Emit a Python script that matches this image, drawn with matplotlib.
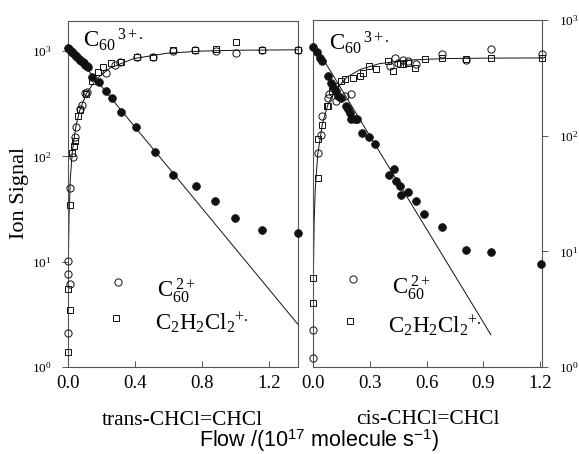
import matplotlib
matplotlib.use("Agg")
import matplotlib.pyplot as plt
from matplotlib.ticker import NullLocator, FixedLocator, LogLocator

plt.rcParams['font.family'] = ['Liberation Serif', 'DejaVu Serif']
plt.rcParams['mathtext.fontset'] = 'custom'
plt.rcParams['mathtext.rm'] = 'Liberation Serif'
plt.rcParams['mathtext.it'] = 'Liberation Serif:italic'
plt.rcParams['mathtext.bf'] = 'Liberation Serif:bold'
plt.rcParams['mathtext.sf'] = 'Liberation Sans'

# ---------------- data: trans-CHCl=CHCl (left panel) ----------------
trans_c3_x = [0.0, 0.008, 0.016, 0.024, 0.032, 0.040, 0.048, 0.056, 0.064, 0.072,
              0.080, 0.088, 0.096, 0.104, 0.112, 0.119, 0.146, 0.183, 0.225, 0.265,
              0.319, 0.408, 0.518, 0.627, 0.761, 0.877, 0.999, 1.159, 1.370]
trans_c3_y = [1063, 1035, 1005, 975, 950, 925, 900, 875, 850, 830,
              810, 785, 765, 745, 725, 711, 564, 512, 418, 356,
              262, 189, 109, 67, 52, 37.5, 25.9, 20.0, 18.9]

trans_c2_x = [0.002, 0.002, 0.014, 0.002, 0.014, 0.030, 0.040, 0.046, 0.070, 0.086,
              0.100, 0.114, 0.226, 0.280, 0.310, 0.410, 0.510, 0.628, 0.756, 0.880,
              1.000, 1.160, 1.370]
trans_c2_y = [2.09, 7.6, 6.2, 10.2, 50, 99, 154, 189, 280, 308,
              403, 412, 624, 738, 790, 873, 885, 1000, 1025, 1000,
              950, 1025, 1025]

trans_p_x = [0.002, 0.002, 0.014, 0.014, 0.026, 0.034, 0.040, 0.060, 0.070, 0.106,
             0.146, 0.179, 0.209, 0.259, 0.319, 0.412, 0.510, 0.628, 0.756, 0.880,
             1.000, 1.160, 1.370]
trans_p_y = [1.4, 5.5, 3.5, 34.6, 107, 126, 140, 242, 276, 392,
             520, 637, 711, 776, 794, 873, 885, 1025, 1025, 1040,
             1212, 1025, 1025]

trans_decay_x = [0.0, 1.37]
trans_decay_y = [1120, 2.56]
trans_rise_x = [0.0002, 0.002, 0.006, 0.014, 0.026, 0.046, 0.07, 0.11, 0.17, 0.25,
                0.39, 0.59, 0.8, 1.0, 1.37]
trans_rise_y = [1.0, 9.1, 27, 62, 112, 190, 274, 396, 544, 689,
                847, 954, 1000, 1018, 1028]

# ---------------- data: cis-CHCl=CHCl (right panel) ----------------
cis_c3_x = [0.0, 0.019, 0.037, 0.049, 0.080, 0.094, 0.106, 0.119, 0.133, 0.150,
            0.176, 0.185, 0.194, 0.202, 0.220, 0.234, 0.259, 0.295, 0.327, 0.402,
            0.426, 0.437, 0.458, 0.467, 0.501, 0.545, 0.589, 0.682, 0.810, 0.942, 1.206]
cis_c3_y = [587, 528, 471, 441, 327, 287, 263, 243, 220, 213,
            180, 169, 156, 138, 138, 138, 105, 97, 85, 46,
            51, 40.5, 36.7, 30.7, 32.7, 27.2, 20.9, 16.2, 10.2, 9.9, 7.8]

cis_c2_x = [0.0, 0.0, 0.029, 0.042, 0.047, 0.080, 0.087, 0.124, 0.168, 0.199,
            0.405, 0.433, 0.449, 0.475, 0.500, 0.545, 0.682, 0.810, 0.939, 1.209]
cis_c2_y = [1.2, 2.08, 71, 102, 148, 213, 230, 199, 220, 230,
            400, 471, 427, 447, 441, 418, 505, 455, 564, 510]

cis_p_x = [0.0, 0.0, 0.024, 0.029, 0.045, 0.073, 0.080, 0.100, 0.117, 0.150,
           0.171, 0.211, 0.246, 0.264, 0.294, 0.334, 0.395, 0.423, 0.458, 0.474,
           0.501, 0.538, 0.594, 0.682, 0.807, 0.939, 1.209]
cis_p_y = [3.6, 5.9, 43, 93, 123, 180, 180, 243, 268, 297,
           307, 317, 327, 350, 400, 379, 441, 362, 418, 413,
           427, 386, 462, 471, 457, 471, 471]

cis_decay_x = [0.0, 0.94]
cis_decay_y = [640, 1.9]
cis_rise_x = [0.0003, 0.002, 0.006, 0.012, 0.025, 0.05, 0.08, 0.12, 0.18, 0.25,
              0.35, 0.5, 0.7, 0.9, 1.21]
cis_rise_y = [0.9, 5.9, 17.6, 34.5, 69, 128, 188, 251, 321, 374,
              419, 450, 464, 468, 470]

trans_xticks = [0.0, 0.4, 0.8, 1.2]
cis_xticks = [0.0, 0.3, 0.6, 0.9, 1.2]
trans_xtick_labels = ['0.0', '0.4', '0.8', '1.2']
cis_xtick_labels = ['0.0', '0.3', '0.6', '0.9', '1.2']

# ---------------- figure ----------------
W, H = 579, 454
fig = plt.figure(figsize=(W / 100, H / 100), dpi=100)
axL = fig.add_axes([68 / W, 1 - 367 / H, 230 / W, 346 / H])
axR = fig.add_axes([313 / W, 1 - 367 / H, 229 / W, 347 / H])

ink = '#111111'
spine_c = '#555555'
fill_kw = dict(ls='none', marker='o', ms=5.6, mfc=ink, mec=ink, mew=0.5, clip_on=False, zorder=4)
circ_kw = dict(ls='none', marker='o', ms=5.2, mfc='none', mec=ink, mew=0.7, clip_on=False, zorder=3)
sq_kw = dict(ls='none', marker='s', ms=4.6, mfc='none', mec=ink, mew=0.7, clip_on=False, zorder=3)
line_kw = dict(color=ink, lw=0.7, zorder=2)

def style(ax, xlim, ylim, xticks, xlabels, yside):
    ax.set_yscale('log')
    ax.set_xlim(*xlim)
    ax.set_ylim(*ylim)
    ax.xaxis.set_major_locator(FixedLocator(xticks))
    ax.set_xticklabels(xlabels)
    ax.xaxis.set_minor_locator(NullLocator())
    ax.yaxis.set_major_locator(LogLocator(base=10, numticks=10))
    ax.yaxis.set_minor_locator(NullLocator())
    for s in ax.spines.values():
        s.set_color(spine_c)
        s.set_linewidth(0.8)
    ax.tick_params(axis='x', direction='in', length=4, width=0.7, color=spine_c,
                   labelsize=13.5, pad=6, top=False)
    if yside == 'left':
        ax.tick_params(axis='y', direction='out', length=4, width=0.7, color=spine_c,
                       labelsize=9.5, pad=8, left=True, right=False)
    else:
        ax.yaxis.tick_right()
        ax.tick_params(axis='y', direction='out', length=4, width=0.7, color=spine_c,
                       labelsize=9.5, pad=8, left=False, right=True,
                       labelleft=False, labelright=True)

style(axL, (0, 1.372), (1, 1930), trans_xticks, trans_xtick_labels, 'left')
style(axR, (0, 1.21), (1, 1000), cis_xticks, cis_xtick_labels, 'right')

# left panel
axL.plot(trans_decay_x, trans_decay_y, **line_kw)
axL.plot(trans_rise_x, trans_rise_y, **line_kw)
axL.plot(trans_c2_x, trans_c2_y, **circ_kw)
axL.plot(trans_p_x, trans_p_y, **sq_kw)
axL.plot(trans_c3_x, trans_c3_y, **fill_kw)

# right panel
axR.plot(cis_decay_x, cis_decay_y, **line_kw)
axR.plot(cis_rise_x, cis_rise_y, **line_kw)
axR.plot(cis_c2_x, cis_c2_y, **circ_kw)
axR.plot(cis_p_x, cis_p_y, **sq_kw)
axR.plot(cis_c3_x, cis_c3_y, **fill_kw)

# legend keys
axL.plot([0.216], [0.245], transform=axL.transAxes, **circ_kw)
axL.plot([0.209], [0.141], transform=axL.transAxes, **sq_kw)
axR.plot([0.176], [0.253], transform=axR.transAxes, **circ_kw)
axR.plot([0.162], [0.133], transform=axR.transAxes, **sq_kw)

def ft(px, py, s, **kw):
    fig.text(px / W, 1 - py / H, s, **kw)

lab_fs = 16.5
ft(157, 296.7, r'$\mathrm{C}_{60}^{\;2+}$', fontsize=lab_fs, va='baseline')
ft(155, 330, r'$\mathrm{C_2H_2Cl_2}{}^{+.}$', fontsize=lab_fs, va='baseline')
ft(391.7, 294, r'$\mathrm{C}_{60}^{\;2+}$', fontsize=lab_fs, va='baseline')
ft(388.3, 333, r'$\mathrm{C_2H_2Cl_2}{}^{+.}$', fontsize=lab_fs, va='baseline')
ft(83, 47, r'$\mathrm{C}_{60}{}^{\,3+.}$', fontsize=lab_fs, va='baseline')
ft(329, 50, r'$\mathrm{C}_{60}{}^{\,3+.}$', fontsize=lab_fs, va='baseline')

ft(20, 193, 'Ion Signal', fontsize=16, rotation=90, ha='center', va='center')
ft(182, 425, 'trans-CHCl=CHCl', fontsize=15.5, ha='center', va='baseline')
ft(428, 424, 'cis-CHCl=CHCl', fontsize=15.5, ha='center', va='baseline')
ft(319, 447, r'Flow /(10$^{\mathsf{17}}$ molecule s$^{\mathsf{-1}}$)',
   fontsize=15.5, ha='center', va='baseline', family=['Liberation Sans', 'DejaVu Sans'])

fig.savefig('out.png', dpi=100, facecolor='white')
